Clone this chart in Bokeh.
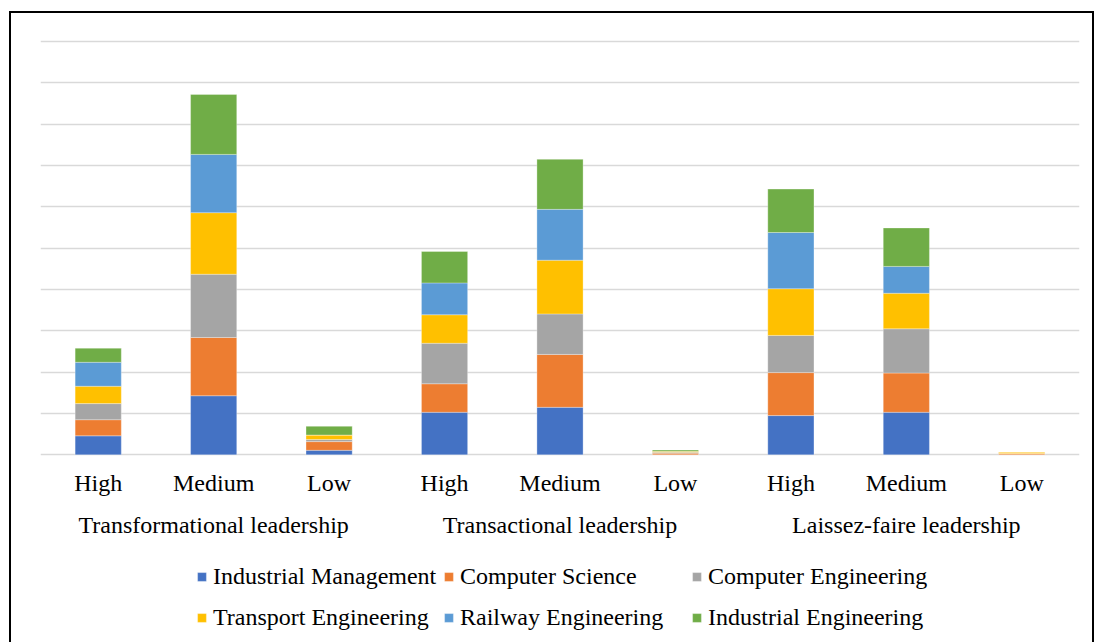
from bokeh.plotting import figure
from bokeh.layouts import column
from bokeh.models import FactorRange, Range1d, FixedTicker, Legend, LegendItem, ColumnDataSource
from bokeh.embed import file_html
from bokeh.resources import INLINE

groups = ["Transformational leadership", "Transactional leadership", "Laissez-faire leadership"]
levels = ["High", "Medium", "Low"]
departments = ["Industrial Management", "Computer Science", "Computer Engineering",
               "Transport Engineering", "Railway Engineering", "Industrial Engineering"]
colors = ["#4472C4", "#ED7D31", "#A5A5A5", "#FFC000", "#5B9BD5", "#70AD47"]

# values per factor: T-High, T-Medium, T-Low, Tr-High, Tr-Medium, Tr-Low, LF-High, LF-Medium, LF-Low
industrial_management = [4.6, 14.3, 1.1, 10.3, 11.5, 0.0, 9.5, 10.3, 0.0]
computer_science      = [3.9, 14.1, 2.1, 6.9, 12.8, 0.4, 10.4, 9.5, 0.3]
computer_engineering  = [3.9, 15.3, 0.5, 9.8, 9.8, 0.2, 9.0, 10.7, 0.0]
transport_engineering = [4.2, 14.9, 1.1, 6.9, 13.0, 0.3, 11.3, 8.6, 0.4]
railway_engineering   = [5.8, 14.1, 0.0, 7.7, 12.3, 0.0, 13.6, 6.5, 0.0]
industrial_engineering= [3.4, 14.5, 2.1, 7.6, 12.1, 0.3, 10.5, 9.3, 0.0]
y_ticks = [0, 10, 20, 30, 40, 50, 60, 70, 80, 90, 100]

factors = [(g, l) for g in groups for l in levels]
source = ColumnDataSource(data={
    "x": factors,
    departments[0]: industrial_management,
    departments[1]: computer_science,
    departments[2]: computer_engineering,
    departments[3]: transport_engineering,
    departments[4]: railway_engineering,
    departments[5]: industrial_engineering,
})

FONT = "Liberation Serif"
FS = "24px"

p = figure(width=1081, height=538, output_backend="svg", toolbar_location=None,
           x_range=FactorRange(*factors, group_padding=0, factor_padding=0, range_padding=0),
           y_range=Range1d(-0.4, 100.5),
           min_border_left=29, min_border_right=13, min_border_top=26, min_border_bottom=95)

p.vbar_stack(departments, x="x", width=0.4, color=colors, source=source,
             line_color="white", line_width=0.6, line_alpha=0.5)

p.outline_line_color = None
p.background_fill_color = "white"
p.border_fill_color = "white"
p.yaxis.visible = False
p.xgrid.visible = False
p.yaxis.ticker = FixedTicker(ticks=y_ticks)
p.ygrid.ticker = FixedTicker(ticks=y_ticks)
p.ygrid.grid_line_color = "#d9d9d9"
p.ygrid.grid_line_width = 1.5

ax = p.xaxis[0]
ax.axis_line_color = None
ax.major_tick_line_color = None
ax.minor_tick_line_color = None
ax.major_tick_in = 0
ax.major_tick_out = 0
ax.separator_line_alpha = 0
ax.major_label_standoff = 13
ax.major_label_text_font = FONT
ax.major_label_text_font_size = FS
ax.major_label_text_color = "black"
ax.group_text_font = FONT
ax.group_text_font_size = FS
ax.group_text_font_style = "normal"
ax.group_text_color = "black"

# legend panel below the chart
lp = figure(width=1081, height=91, output_backend="svg", toolbar_location=None,
            x_range=Range1d(0, 1), y_range=Range1d(0, 1),
            x_axis_type=None, y_axis_type=None,
            min_border_left=0, min_border_right=0, min_border_top=0, min_border_bottom=0)
lp.outline_line_color = None
lp.grid.visible = False
lp.background_fill_color = "white"
lp.border_fill_color = "white"

# swatch renderers for the legend (no drawable data)
nan = float("nan")
dummy = [lp.vbar(x=[nan], top=[nan], width=0.4, color=c, line_color="white",
                 line_width=0.6, line_alpha=0.5) for c in colors]

legend_cols = [(0, 3), (1, 4), (2, 5)]
legend_x = [156, 403, 651]
for (a, b), lx in zip(legend_cols, legend_x):
    lg = Legend(items=[LegendItem(label=departments[a], renderers=[dummy[a]]),
                       LegendItem(label=departments[b], renderers=[dummy[b]])],
                location=(lx, 11), orientation="vertical",
                glyph_width=11, glyph_height=11, label_standoff=6, spacing=14,
                padding=0, margin=0, border_line_color=None, background_fill_alpha=0,
                label_text_font=FONT, label_text_font_size=FS, label_text_color="black")
    lp.add_layout(lg)

layout = column(p, lp)
layout.styles = {"border-top": "2px solid black", "border-left": "2px solid black",
                 "border-right": "2px solid black",
                 "margin-left": "9px", "margin-top": "11px"}

open("out.html", "w").write(file_html(layout, INLINE))
